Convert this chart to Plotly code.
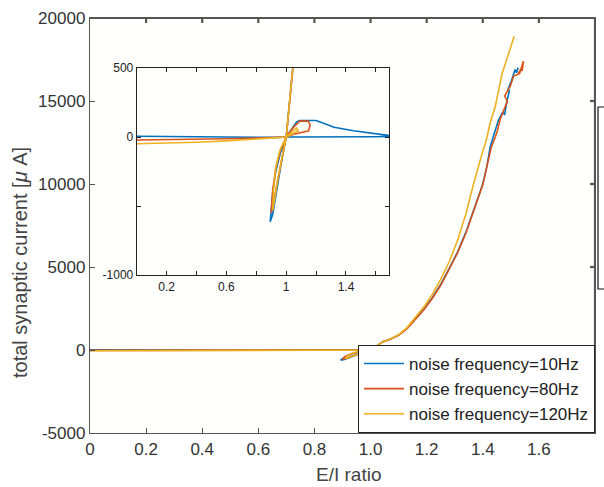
import plotly.graph_objects as go

# ---------------- data ----------------
series_names = ["noise frequency=10Hz", "noise frequency=80Hz", "noise frequency=120Hz"]
series_colors = ["#0072BD", "#D95319", "#EDB120"]

blue_x = [0.0, 0.2, 0.4, 0.6, 0.8, 0.9, 0.95, 1.0,
          1.03, 1.07, 1.09, 1.2, 1.25, 1.32, 1.45, 1.6, 1.73,
          1.6, 1.4, 1.2, 1.0,
          0.96, 0.93, 0.91, 0.90, 0.893, 0.91, 0.93, 0.95, 0.97, 1.0,
          1.02, 1.044, 1.07, 1.1, 1.13, 1.16, 1.19, 1.22, 1.25, 1.28, 1.31, 1.34, 1.37, 1.40, 1.414,
          1.426, 1.44, 1.456, 1.47, 1.478, 1.486, 1.495, 1.49, 1.503, 1.515, 1.52, 1.526, 1.52]
blue_y = [5, 3, 0, -3, -5, -5, -3, 0,
          50, 110, 120, 120, 100, 70, 45, 20, 5,
          2, 0, 0, 0,
          -120, -250, -400, -520, -615, -560, -420, -300, -170, 0,
          230, 500, 650, 900, 1300, 1850, 2450, 3150, 3950, 4900, 5900, 7100, 8500, 10000, 11000,
          12200, 13000, 13850, 14300, 14200, 15000, 15600, 15700, 16250, 16900, 16700, 17000, 16750]

red_x = [0.0, 0.2, 0.4, 0.6, 0.8, 0.9, 1.0,
         1.04, 1.09, 1.147, 1.16, 1.15, 1.1, 1.05, 1.0,
         0.96, 0.93, 0.91, 0.90, 0.915, 0.94, 0.97, 1.0,
         1.02, 1.045, 1.07, 1.1, 1.13, 1.16, 1.19, 1.22, 1.25, 1.28, 1.31, 1.34, 1.37, 1.40, 1.414,
         1.43, 1.444, 1.452, 1.462, 1.48, 1.488, 1.478, 1.498, 1.51, 1.525, 1.535, 1.53, 1.545, 1.54]
red_y = [-22, -20, -17, -13, -8, -5, 0,
         60, 115, 115, 90, 45, 35, 20, 0,
         -100, -230, -380, -550, -480, -330, -160, 0,
         220, 500, 640, 880, 1280, 1820, 2420, 3100, 3900, 4850, 5850, 7050, 8450, 9950, 11000,
         12200, 12800, 13200, 13900, 14700, 15000, 15300, 15900, 16500, 16600, 16900, 16600, 17400, 16800]

yellow_x = [0.0, 0.2, 0.4, 0.6, 0.8, 0.9, 1.0,
            1.04, 1.07, 1.08, 1.04, 1.0,
            0.96, 0.93, 0.915, 0.91, 0.92, 0.94, 0.97, 1.0,
            1.02, 1.044, 1.07, 1.1, 1.13, 1.16, 1.19, 1.22, 1.25, 1.28, 1.31, 1.34, 1.367, 1.402, 1.412,
            1.426, 1.445, 1.468, 1.49, 1.512]
yellow_y = [-49, -45, -38, -28, -12, -5, 0,
            40, 65, 45, 20, 0,
            -90, -220, -380, -530, -470, -330, -160, 0,
            230, 500, 660, 920, 1350, 1950, 2600, 3350, 4250, 5300, 6600, 8200, 10000, 12100, 12600,
            13660, 14700, 16600, 17800, 18900]

main_xrange = [0, 1.8]
main_yrange = [-5000, 20000]
main_xticks = [0, 0.2, 0.4, 0.6, 0.8, 1.0, 1.2, 1.4, 1.6, 1.8]
main_xticklabels = ["0", "0.2", "0.4", "0.6", "0.8", "1.0", "1.2", "1.4", "1.6", "1.8"]
main_yticks = [-5000, 0, 5000, 10000, 15000, 20000]
main_yticklabels = ["-5000", "0", "5000", "10000", "15000", "20000"]
inset_xticks = [0.2, 0.4, 0.6, 0.8, 1.0, 1.2, 1.4, 1.6]
inset_xticklabels = ["0.2", "", "0.6", "", "1", "", "1.4", ""]
inset_yticks = [-1000, -500, 0, 500]
inset_yticklabels = ["-1000", "", "0", "500"]

# ---------------- figure ----------------
W, H = 604, 487
PL, PR, PT, PB = 90, 595, 18, 433
L, T = PL, PT
R, B = W - PR, H - PB
pw, ph = PR - PL, PB - PT


def px_x(p):
    return (p - PL) / pw


def px_y(p):
    return (PB - p) / ph


FONT = "Liberation Sans, Arial, Helvetica, sans-serif"
AX = "#555555"
xs = [blue_x, red_x, yellow_x]
ys = [blue_y, red_y, yellow_y]

fig = go.Figure()

# top / right frame and mirrored ticks of the main axes (built from the axis ranges and ticks)
tick_dx = 5 * (main_xrange[1] - main_xrange[0]) / pw
tick_dy = 5 * (main_yrange[1] - main_yrange[0]) / ph
fx = [main_xrange[0], main_xrange[1], main_xrange[1], None]
fy = [main_yrange[1], main_yrange[1], main_yrange[0], None]
for v in main_xticks[1:-1]:
    fx += [v, v, None]
    fy += [main_yrange[1], main_yrange[1] - tick_dy, None]
for v in main_yticks[1:-1]:
    fx += [main_xrange[1], main_xrange[1] - tick_dx, None]
    fy += [v, v, None]
fig.add_trace(go.Scatter(x=fx, y=fy, mode="lines", line=dict(color=AX, width=2.2),
                         showlegend=False, hoverinfo="skip", connectgaps=False,
                         xaxis="x", yaxis="y"))

for nm, c, x, y in zip(series_names, series_colors, xs, ys):
    fig.add_trace(go.Scatter(x=x, y=y, mode="lines", name=nm,
                             line=dict(color=c, width=1.6),
                             xaxis="x", yaxis="y"))
for nm, c, x, y in zip(series_names, series_colors, xs, ys):
    fig.add_trace(go.Scatter(x=x, y=y, mode="lines", name=nm, showlegend=False,
                             line=dict(color=c, width=1.6),
                             xaxis="x2", yaxis="y2"))

common = dict(showgrid=False, zeroline=False, ticks="inside", showline=True)

fig.update_layout(
    width=W, height=H,
    margin=dict(l=L, r=R, t=T, b=B, autoexpand=False),
    paper_bgcolor="#ffffff", plot_bgcolor="#fffffe",
    font=dict(family=FONT, color="#333333"),
    xaxis=dict(domain=[0, 1], range=main_xrange, tickvals=main_xticks, ticktext=main_xticklabels,
               linecolor=AX, linewidth=1.4, tickcolor=AX, ticklen=5, mirror="ticks",
               tickfont=dict(size=17, color="#333333"), **common),
    yaxis=dict(domain=[0, 1], range=main_yrange, tickvals=main_yticks, ticktext=main_yticklabels,
               linecolor=AX, linewidth=1.4, tickcolor=AX, ticklen=5, mirror="ticks",
               tickfont=dict(size=17, color="#333333"), **common),
    xaxis2=dict(domain=[px_x(136.8), px_x(389.3)], range=[0, 1.69], anchor="y2",
                tickvals=inset_xticks, ticktext=inset_xticklabels, mirror="ticks",
                linecolor="#222222", linewidth=1.2, tickcolor="#222222", ticklen=4,
                tickfont=dict(size=12, color="#222222"), **common),
    yaxis2=dict(domain=[px_y(275), px_y(68)], range=[-1000, 500], anchor="x2",
                tickvals=inset_yticks, ticktext=inset_yticklabels, mirror="ticks",
                linecolor="#222222", linewidth=1.2, tickcolor="#222222", ticklen=4,
                tickfont=dict(size=12, color="#222222"), **common),
    legend=dict(x=1, xanchor="right", y=0, yanchor="bottom",
                bgcolor="white", bordercolor="#222222", borderwidth=1,
                font=dict(size=17, color="#222222", family=FONT),
                tracegroupgap=0, itemwidth=40),
    showlegend=True,
)

fig.add_annotation(text="total synaptic current [<i>μ</i> A]", textangle=-90,
                   xref="paper", yref="paper", x=px_x(20), y=px_y(263),
                   xanchor="center", yanchor="middle", showarrow=False,
                   font=dict(size=20, color="#444444", family=FONT))
fig.add_annotation(text="E/I ratio", xref="paper", yref="paper",
                   x=px_x(348), y=px_y(474), xanchor="center", yanchor="middle",
                   showarrow=False, font=dict(size=19, color="#444444", family=FONT))

# partially visible box at the right edge of the reference
fig.add_shape(type="rect", xref="paper", yref="paper",
              x0=px_x(598), x1=px_x(640), y0=px_y(289), y1=px_y(107),
              line=dict(color="#111111", width=1.2), fillcolor="rgba(0,0,0,0)")

fig.write_html("out.html",
               config={"displayModeBar": False},
               post_script="document.body.style.margin='0px';"
                           "document.body.style.overflow='hidden';"
                           "document.documentElement.style.overflow='hidden';")
